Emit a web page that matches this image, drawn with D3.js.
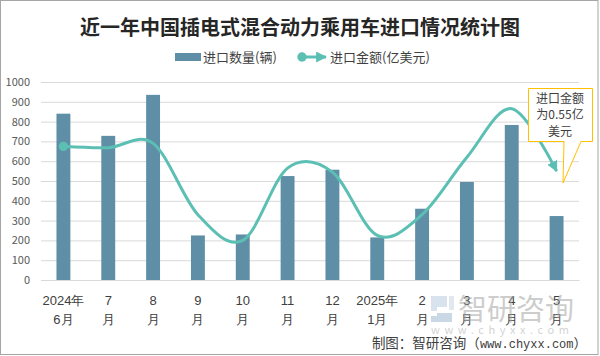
<!DOCTYPE html>
<html><head><meta charset="utf-8">
<script src="https://cdn.jsdelivr.net/npm/d3@7"></script>
<style>
html,body{margin:0;padding:0;background:#fff;}
svg{display:block;font-family:"Noto Sans CJK SC","Microsoft YaHei",sans-serif;}
</style></head>
<body><svg id="c" width="600" height="356"></svg>
<script>
const monthTop = ["2024年","7","8","9","10","11","12","2025年","2","3","4","5"];
const monthBottom = ["6月","月","月","月","月","月","月","1月","月","月","月","月"];
const importQty = [840, 728, 935, 225, 230, 525, 557, 215, 360, 495, 783, 323];
const importAmount = [0.675, 0.668, 0.69, 0.33, 0.20, 0.565, 0.545, 0.225, 0.33, 0.62, 0.865, 0.55];
const yTicks = [0,100,200,300,400,500,600,700,800,900,1000];
const title = "近一年中国插电式混合动力乘用车进口情况统计图";
const legendQty = "进口数量(辆)";
const legendAmt = "进口金额(亿美元)";
const noteLines = ["进口金额","为0.55亿","美元"];
const sourceParts = ["制图：智研咨询（", "www.chyxx.com", "）"];

const categories = monthTop.map((t,i)=>t+"|"+monthBottom[i]);
const svg = d3.select("#c");
const barColor = "#5e8fa7", lineColor = "#5cbfb4";

svg.append("rect").attr("x",0.5).attr("y",0.5).attr("width",597.5).attr("height",354)
  .attr("fill","#fff").attr("stroke","#a6a6a6");

const x = d3.scaleBand().domain(categories).range([41,579]).paddingInner(0.69).paddingOuter(0.345);
const y = d3.scaleLinear().domain([0,1000]).range([280,82]);
const y2 = d3.scaleLinear().domain([0,1]).range([280,82]);

// gridlines
const grid = svg.append("g").attr("transform","translate(41,0)")
  .call(d3.axisLeft(y).tickValues(yTicks).tickSize(-538).tickFormat(""));
grid.select(".domain").remove();
grid.selectAll("line").attr("stroke","#d9d9d9").attr("stroke-width",1);

// y labels
const ya = svg.append("g").attr("transform","translate(41,0)")
  .call(d3.axisLeft(y).tickValues(yTicks).tickSize(0).tickPadding(11).tickFormat(d3.format("d")));
ya.select(".domain").remove();
ya.selectAll("text").attr("fill","#595959").style("font-size","11px").style("font-family","'Noto Sans CJK SC',sans-serif");

// x axis
const xa = svg.append("g").attr("transform","translate(0,280)")
  .call(d3.axisBottom(x).tickSize(0).tickFormat(""));
xa.select(".domain").attr("stroke","#d9d9d9");
xa.selectAll(".tick").each(function(d){
  const [a,b] = d.split("|");
  const t = d3.select(this).append("text").attr("fill","#404040").attr("text-anchor","middle")
    .style("font-size","13px");
  t.append("tspan").attr("x",0).attr("y",25).text(a);
  t.append("tspan").attr("x",0).attr("y",44).text(b);
});

// bars
svg.append("g").selectAll("rect").data(importQty).join("rect")
  .attr("x",(d,i)=>x(categories[i])).attr("width",x.bandwidth())
  .attr("y",d=>y(d)).attr("height",d=>y(0)-y(d)).attr("fill",barColor);

// markers
const defs = svg.append("defs");
defs.append("marker").attr("id","arr").attr("markerUnits","userSpaceOnUse")
  .attr("viewBox","0 0 10 10").attr("refX",9).attr("refY",5)
  .attr("markerWidth",11).attr("markerHeight",11).attr("orient","auto")
  .append("path").attr("d","M0,0 L10,5 L0,10 Z").attr("fill",lineColor);

const cx = i => x(categories[i]) + x.bandwidth()/2;
const line = d3.line().x((d,i)=>cx(i)).y(d=>y2(d)).curve(d3.curveCardinal.tension(0));
svg.append("path").datum(importAmount).attr("d",line).attr("fill","none")
  .attr("stroke",lineColor).attr("stroke-width",3).attr("marker-end","url(#arr)");
svg.append("circle").attr("cx",cx(0)).attr("cy",y2(importAmount[0])).attr("r",4.7).attr("fill",lineColor);

// title
svg.append("text").attr("x",300).attr("y",35).attr("text-anchor","middle")
  .attr("fill","#262626").style("font-size","20px").style("font-weight","700").text(title);

// legend
svg.append("rect").attr("x",175).attr("y",53).attr("width",26).attr("height",8).attr("fill",barColor);
svg.append("text").attr("x",203).attr("y",61.5).attr("fill","#404040").style("font-size","13px").text(legendQty);
svg.append("line").attr("x1",302).attr("x2",326).attr("y1",57).attr("y2",57)
  .attr("stroke",lineColor).attr("stroke-width",3).attr("marker-end","url(#arr)");
svg.append("circle").attr("cx",302).attr("cy",57).attr("r",4.7).attr("fill",lineColor);
svg.append("text").attr("x",330).attr("y",61.5).attr("fill","#404040").style("font-size","13px").text(legendAmt);

// callout
svg.append("path").attr("d","M528.5,88.5 H592.5 V141.5 H581 L563,183 L564,141.5 H528.5 Z")
  .attr("fill","#fff").attr("stroke","#ffc000").attr("stroke-width",1);
svg.append("g").selectAll("text").data(noteLines).join("text")
  .attr("x",560).attr("y",(d,i)=>102.5+i*16.5).attr("text-anchor","middle")
  .attr("fill","#404040").style("font-size","12px").text(d=>d);

// watermark
const wm = svg.append("g").attr("opacity",0.55);
wm.append("path").attr("d","M431,296 h16 v11 h-10 v4 h-6 z").attr("fill","#b9cde0");
wm.append("path").attr("d","M437,313 h15 v9 h-21 v-6 h6 z").attr("fill","#9fb9d3");
wm.append("path").attr("d","M449,296 h5 v14 h-5 z").attr("fill","#c9d6e3");
wm.append("text").attr("x",458).attr("y",320).attr("fill","#a6a6a6").style("font-size","29px").text("智研咨询");
wm.append("text").attr("x",431).attr("y",334).attr("fill","#b0b0b0").style("font-size","11px")
  .style("letter-spacing","4.6px").text("www.chyxx.com");

// source
const src = svg.append("text").attr("x",587).attr("y",348).attr("text-anchor","end").attr("fill","#404040")
  .style("font-size","13.5px");
src.append("tspan").text(sourceParts[0]);
src.append("tspan").style("font-family","'Liberation Mono','DejaVu Sans Mono',monospace").style("font-size","12px").text(sourceParts[1]);
src.append("tspan").text(sourceParts[2]);
</script></body></html>
